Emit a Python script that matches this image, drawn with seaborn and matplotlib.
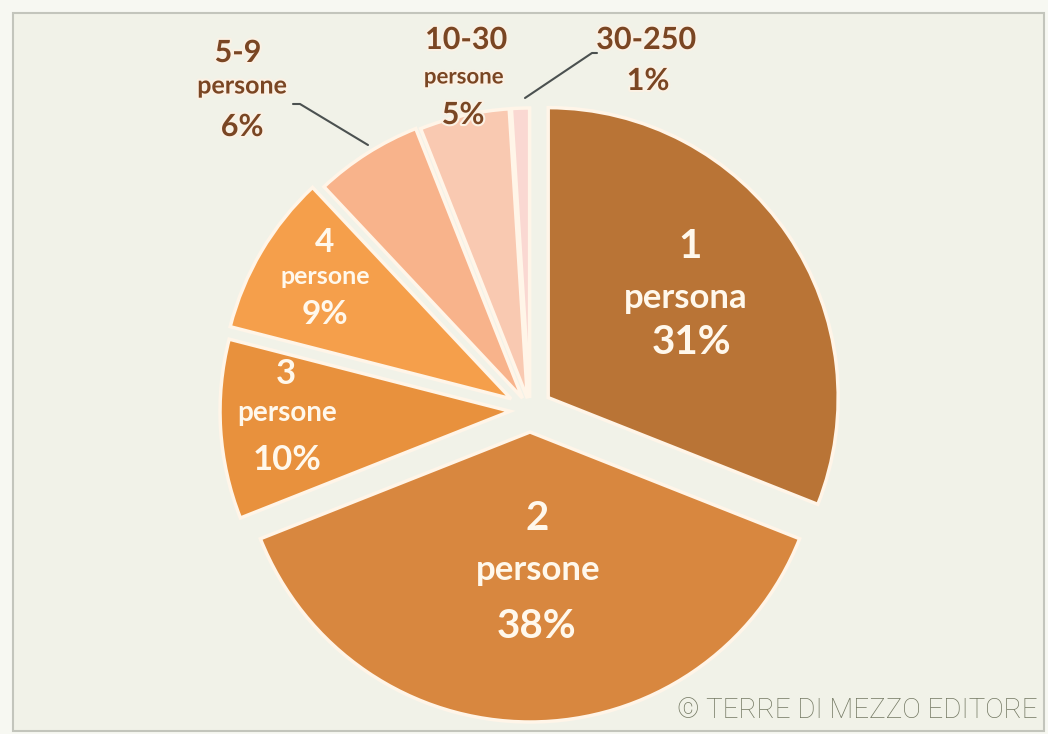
import matplotlib
matplotlib.use("Agg")
import matplotlib.pyplot as plt
import matplotlib.patches as mpatches
import matplotlib.patheffects as pe
from matplotlib import font_manager
import seaborn as sns

# data
categories = ["1 persona", "2 persone", "3 persone", "4 persone",
              "5-9 persone", "10-30 persone", "30-250 persone"]
shares = [31, 38, 10, 9, 6, 5, 1]
slice_colors = ["#B97436", "#D8873F", "#E8913D", "#F59F4B",
                "#F8B38B", "#F9C9B1", "#FAD8D2"]

sns.set_theme(style="white")
installed = {f.name for f in font_manager.fontManager.ttflist}
main_font = "Lato" if "Lato" in installed else "DejaVu Sans"
narrow_font = "Liberation Sans Narrow" if "Liberation Sans Narrow" in installed else "Roboto"
plt.rcParams["font.family"] = [main_font, "DejaVu Sans"]

W, H = 1048, 734
CX, CY, R = 530, 410, 290   # pie centre / radius in pixels


def px(x, y):
    # pixel position -> data units (radius = 1)
    return (x - CX) / R, (CY - y) / R


fig = plt.figure(figsize=(W / 100, H / 100), dpi=100, facecolor="#F7F8F2")
ax = fig.add_axes([0, 0, 1, 1])
ax.set_facecolor("none")
ax.add_patch(mpatches.Rectangle((13 / W, 3 / H), (W - 17) / W, (H - 16) / H,
                                transform=fig.transFigure, facecolor="#F1F2E8",
                                edgecolor="#C3C5BC", linewidth=1.5, zorder=-5))

explode = [22 / R, 22 / R, 20 / R, 22 / R, 14 / R, 12 / R, 12 / R]
ax.pie(shares, colors=slice_colors, startangle=90, counterclock=False,
       explode=explode, radius=1,
       wedgeprops=dict(edgecolor="#FFF5E8", linewidth=2.5))
ax.set_xlim(-CX / R, (W - CX) / R)
ax.set_ylim(-(H - CY) / R, CY / R)
ax.axis("off")

inside = "#FFF8EC"
outside = "#7A4623"
glow = [pe.withStroke(linewidth=3, foreground="#FBF1E4")]

# (text, x, y, size, colour)
labels = [
    ("1", 690, 247, 29, inside), ("persona", 686, 298, 25, inside), ("31%", 692, 342, 29, inside),
    ("2", 537, 519, 29, inside), ("persone", 538, 570, 25, inside), ("38%", 537, 626, 29, inside),
    ("3", 286, 374, 25, inside), ("persone", 287, 413, 20, inside), ("10%", 287, 460, 25, inside),
    ("4", 325, 242, 24, inside), ("persone", 325, 276, 18, inside), ("9%", 325, 315, 24, inside),
    ("5-9", 238, 53, 22, outside), ("persone", 242, 86, 18, outside), ("6%", 242, 127, 22, outside),
    ("10-30", 466, 40, 22, outside), ("persone", 464, 77, 16, outside), ("5%", 463, 115, 22, outside),
    ("30-250", 646, 40, 22, outside), ("1%", 648, 81, 22, outside),
]
for txt, x, y, size, col in labels:
    ax.text(*px(x, y), txt, ha="center", va="center", fontsize=size,
            fontweight="bold", color=col,
            path_effects=glow if col == outside else None)

# leader lines
for pts in ([(293, 104), (300, 104), (368, 145)],
            [(597, 53), (592, 53), (525, 98)]):
    xs, ys = zip(*[px(a, b) for a, b in pts])
    ax.plot(xs, ys, color="#4B5150", linewidth=1.5, solid_capstyle="round")

ax.text(*px(1038, 710), "\u00a9 TERRE DI MEZZO EDITORE", ha="right", va="center",
        fontsize=20, fontweight="light", color="#737862",
        family=[narrow_font, "DejaVu Sans"])

fig.savefig("out.png", dpi=100, facecolor=fig.get_facecolor())
